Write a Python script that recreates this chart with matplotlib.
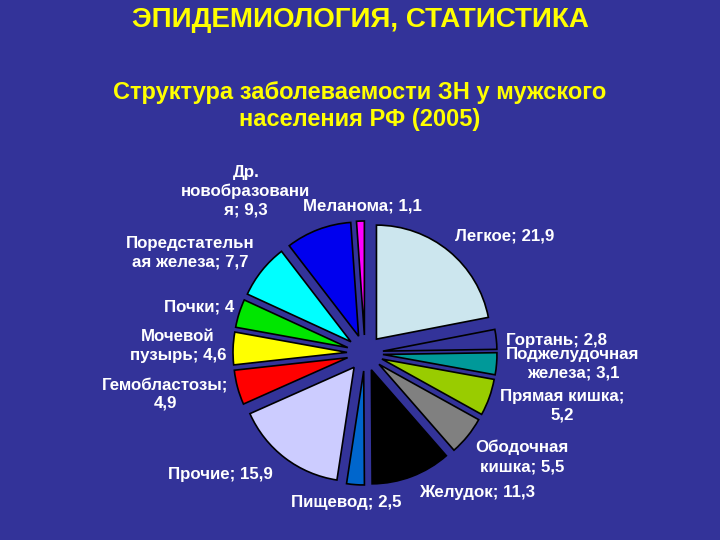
import matplotlib
matplotlib.use("Agg")
import matplotlib.pyplot as plt

# Incidence structure, men, RF 2005 (%), clockwise from 12 o'clock
labels = [
    "Легкое; 21,9", "Гортань; 2,8", "Поджелудочная\nжелеза; 3,1",
    "Прямая кишка;\n5,2", "Ободочная\nкишка; 5,5", "Желудок; 11,3",
    "Пищевод; 2,5", "Прочие; 15,9", "Гемобластозы;\n4,9",
    "Мочевой\nпузырь; 4,6", "Почки; 4", "Поредстательн\nая железа; 7,7",
    "Др.\nновобразовани\nя; 9,3", "Меланома; 1,1",
]
values = [21.9, 2.8, 3.1, 5.2, 5.5, 11.3, 2.5, 15.9, 4.9, 4.6, 4.0, 7.7, 9.3, 1.1]
colors = [
    "#CCE6EE", "#333399", "#009999", "#99CC00", "#808080", "#000000",
    "#0066CC", "#CCCCFF", "#FF0000", "#FFFF00", "#00E600", "#00FFFF",
    "#0000EE", "#FF00FF",
]
# label anchor points (pixel coords, from the top-left of the slide)
label_pos = [
    (505, 236), (556, 340), (573, 364), (562, 406), (522, 457), (477, 493),
    (346, 503), (220, 474), (165, 394), (178, 346), (199, 307), (190, 253),
    (246, 191), (362, 206),
]

BG = "#333399"
W, H = 720, 540
R = 114

fig = plt.figure(figsize=(7.2, 5.4), dpi=100, facecolor=BG)
ax = fig.add_axes([0, 0, 1, 1])
ax.set_facecolor(BG)

# explode is in data units here (pixels), not a fraction of the radius
ax.pie(values, colors=colors, startangle=90, counterclock=False,
       center=(365, H - 353), radius=R, explode=[18] * len(values),
       wedgeprops=dict(edgecolor="black", linewidth=1.2), frame=True)
ax.set_xlim(0, W)
ax.set_ylim(0, H)
ax.set_aspect("equal")
ax.axis("off")

font = "Liberation Sans"
for text, (px, py) in zip(labels, label_pos):
    ax.text(px, H - py, text, ha="center", va="center", color="white",
            fontsize=12.2, fontweight="bold", family=font, linespacing=1.3)

ax.text(360, H - 20, "ЭПИДЕМИОЛОГИЯ, СТАТИСТИКА", ha="center", va="center",
        color="#FFFF00", fontsize=20, fontweight="bold", family=font)
ax.text(360, H - 106, "Структура заболеваемости ЗН у мужского\nнаселения РФ (2005)",
        ha="center", va="center", color="#FFFF00", fontsize=17,
        fontweight="bold", family=font, linespacing=1.22)

fig.savefig("out.png", dpi=100, facecolor=BG)
